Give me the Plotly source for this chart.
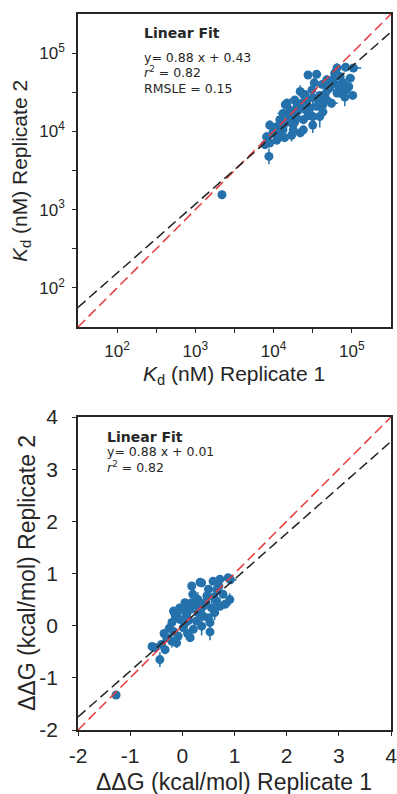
import numpy as np
import plotly.graph_objects as go

# ---- Kd data (log10 of Kd in nM), replicate 1 vs replicate 2 ----
log_kd_rep1 = [4.44, 4.55, 4.81, 4.92, 5.02, 4.76, 4.89, 4.93, 5.01, 4.91,
               4.81, 4.69, 4.59, 4.50, 4.42, 4.36, 4.27, 4.17, 4.21, 4.12,
               4.29, 4.42, 4.55, 4.63, 4.68, 4.50, 4.38, 4.27, 4.17, 4.08,
               4.04, 3.95, 4.12, 4.25, 3.99, 4.08, 3.91, 3.95, 3.89, 3.94,
               4.59, 4.63, 4.74, 4.49, 4.34, 4.82, 4.98, 4.68, 4.29, 3.34,
               4.38, 4.34, 4.23, 4.50, 4.15, 4.04, 4.46, 4.33, 4.20, 4.10,
               4.00, 4.58, 4.66, 4.72, 4.85, 4.78, 4.62, 4.52, 4.40, 4.30,
               4.24, 4.44, 4.86, 4.96, 4.05, 4.14]
log_kd_rep2 = [4.72, 4.73, 4.81, 4.82, 4.81, 4.66, 4.62, 4.53, 4.46, 4.44,
               4.49, 4.53, 4.46, 4.43, 4.40, 4.36, 4.40, 4.36, 4.27, 4.23,
               4.25, 4.27, 4.32, 4.34, 4.40, 4.19, 4.15, 4.12, 4.12, 4.15,
               4.06, 4.08, 4.02, 4.02, 3.98, 3.93, 3.93, 3.85, 3.83, 3.68,
               4.19, 4.25, 4.36, 4.53, 4.51, 4.59, 4.68, 4.66, 4.17, 3.19,
               4.02, 3.98, 3.95, 4.08, 4.34, 3.89, 4.30, 4.28, 4.18, 4.08,
               4.02, 4.40, 4.48, 4.56, 4.70, 4.74, 4.60, 4.62, 4.47, 4.33,
               4.10, 4.20, 4.52, 4.57, 3.98, 3.92]
log_kd_err1 = [0.04, 0.03, 0.05, 0.06, 0.10, 0.04, 0.03, 0.05, 0.03, 0.08,
               0.04, 0.03, 0.05, 0.04, 0.06, 0.03, 0.04, 0.05, 0.03, 0.07,
               0.04, 0.03, 0.05, 0.04, 0.03, 0.06, 0.04, 0.03, 0.05, 0.04,
               0.03, 0.04, 0.05, 0.03, 0.04, 0.06, 0.03, 0.04, 0.05, 0.03,
               0.04, 0.03, 0.08, 0.04, 0.03, 0.05, 0.06, 0.03, 0.04, 0.03,
               0.04, 0.03, 0.05, 0.04, 0.03, 0.05, 0.04, 0.05, 0.03, 0.04,
               0.03, 0.06, 0.04, 0.03, 0.05, 0.04, 0.03, 0.04, 0.05, 0.03,
               0.04, 0.03, 0.08, 0.05, 0.04, 0.03]
log_kd_err2 = [0.05, 0.04, 0.06, 0.04, 0.05, 0.14, 0.05, 0.06, 0.04, 0.12,
               0.05, 0.10, 0.04, 0.16, 0.05, 0.12, 0.04, 0.06, 0.15, 0.05,
               0.04, 0.10, 0.05, 0.06, 0.04, 0.12, 0.05, 0.04, 0.07, 0.05,
               0.04, 0.06, 0.05, 0.10, 0.04, 0.05, 0.06, 0.04, 0.05, 0.10,
               0.14, 0.05, 0.06, 0.04, 0.08, 0.05, 0.04, 0.06, 0.12, 0.03,
               0.05, 0.04, 0.08, 0.10, 0.05, 0.06, 0.05, 0.12, 0.04, 0.06,
               0.05, 0.04, 0.10, 0.05, 0.06, 0.04, 0.05, 0.08, 0.04, 0.06,
               0.05, 0.04, 0.06, 0.05, 0.04, 0.05]

# ---- ddG data (kcal/mol), replicate 1 vs replicate 2 ----
ddg_rep1 = [0.18, 0.37, 0.72, 0.88, 0.92, 0.66, 0.78, 0.91, 0.66, 0.47,
            0.30, 0.18, 0.05, -0.05, 0.15, -0.17, 0.40, 0.56, 0.72, 0.82,
            0.08, 0.30, -0.11, -0.14, -0.05, -0.20, 0.02, -0.17, 0.21, 0.37,
            0.27, 0.53, 0.40, 0.59, -0.30, -0.20, -0.40, -0.52, -0.33, -0.43,
            -0.08, 0.15, -0.11, 0.50, -1.27, 0.53, -0.58, 0.34, 0.10, 0.25,
            0.45, 0.60, 0.05, -0.25, 0.12, 0.35, -0.35, 0.70, 0.50, 0.20,
            -0.02, 0.62, 0.10]
ddg_rep2 = [0.76, 0.82, 0.89, 0.92, 0.88, 0.69, 0.60, 0.50, 0.47, 0.57,
            0.50, 0.44, 0.44, 0.34, 0.31, 0.28, 0.37, 0.34, 0.37, 0.41,
            0.21, 0.25, 0.18, 0.22, 0.12, 0.06, -0.04, -0.11, -0.07, -0.01,
            0.09, 0.06, 0.18, 0.85, -0.23, -0.30, -0.36, -0.42, -0.46, -0.65,
            -0.20, -0.23, -0.33, 0.15, -1.33, -0.12, -0.40, 0.83, 0.35, 0.40,
            0.45, 0.55, 0.05, -0.05, 0.10, 0.30, -0.15, 0.75, 0.70, 0.60,
            0.30, 0.25, -0.15]
ddg_err1 = [0.05, 0.04, 0.06, 0.10, 0.12, 0.05, 0.04, 0.06, 0.04, 0.05,
            0.04, 0.06, 0.05, 0.04, 0.05, 0.04, 0.06, 0.05, 0.04, 0.08,
            0.04, 0.05, 0.04, 0.06, 0.05, 0.04, 0.05, 0.04, 0.06, 0.05,
            0.04, 0.05, 0.04, 0.05, 0.06, 0.04, 0.05, 0.04, 0.06, 0.05,
            0.04, 0.05, 0.04, 0.06, 0.05, 0.04, 0.05, 0.04, 0.05, 0.04,
            0.06, 0.05, 0.04, 0.05, 0.04, 0.06, 0.05, 0.04, 0.05, 0.06,
            0.04, 0.05, 0.04]
ddg_err2 = [0.06, 0.05, 0.06, 0.05, 0.06, 0.16, 0.05, 0.12, 0.18, 0.06,
            0.14, 0.05, 0.06, 0.05, 0.20, 0.06, 0.05, 0.16, 0.05, 0.06,
            0.05, 0.12, 0.06, 0.05, 0.06, 0.14, 0.05, 0.06, 0.05, 0.18,
            0.06, 0.05, 0.06, 0.05, 0.06, 0.12, 0.05, 0.06, 0.05, 0.14,
            0.06, 0.05, 0.10, 0.05, 0.04, 0.16, 0.05, 0.06, 0.05, 0.06,
            0.12, 0.05, 0.06, 0.05, 0.10, 0.06, 0.05, 0.06, 0.05, 0.12,
            0.06, 0.14, 0.05]

# ---- linear fit results ----
kd_slope, kd_intercept, kd_r2, kd_rmsle = 0.88, 0.43, 0.82, 0.15
ddg_slope, ddg_intercept, ddg_r2 = 0.88, 0.01, 0.82

# ---- axes ----
kd_log_range = [1.5, 5.5]
kd_tick_exponents = [2, 3, 4, 5]
kd_minor_exponents = [2.5, 3.5, 4.5]
ddg_range = [-2, 4]
ddg_ticks = [-2, -1, 0, 1, 2, 3, 4]

BLUE = "#2471ab"
RED = "#e4393d"
BLACK = "#222222"
AXIS = "#262626"
TXT = "#262626"
AX_FONT = "Liberation Sans, Arial, sans-serif"
ANN_FONT = "DejaVu Sans, sans-serif"
W, H = 397, 794

fig = go.Figure()

# Kd scatter with error bars (log-symmetric errors)
l1 = np.array(log_kd_rep1)
l2 = np.array(log_kd_rep2)
e1 = np.array(log_kd_err1)
e2 = np.array(log_kd_err2)
kd1, kd2 = 10 ** l1, 10 ** l2
fig.add_trace(go.Scatter(
    x=kd1, y=kd2, mode="markers", xaxis="x", yaxis="y",
    marker=dict(color=BLUE, size=9, line=dict(width=0)),
    error_x=dict(type="data", symmetric=False,
                 array=10 ** (l1 + e1) - kd1, arrayminus=kd1 - 10 ** (l1 - e1),
                 color=BLUE, thickness=1.5, width=0),
    error_y=dict(type="data", symmetric=False,
                 array=10 ** (l2 + e2) - kd2, arrayminus=kd2 - 10 ** (l2 - e2),
                 color=BLUE, thickness=1.5, width=0),
    showlegend=False, hoverinfo="skip"))

lx = np.array(kd_log_range)
fig.add_trace(go.Scatter(
    x=10 ** lx, y=10 ** lx, mode="lines", xaxis="x", yaxis="y",
    line=dict(color=RED, width=1.5, dash="10px,5px"), showlegend=False))
fig.add_trace(go.Scatter(
    x=10 ** lx, y=10 ** (kd_slope * lx + kd_intercept), mode="lines",
    xaxis="x", yaxis="y",
    line=dict(color=BLACK, width=1.5, dash="10px,5px"), showlegend=False))

# ddG scatter with error bars
fig.add_trace(go.Scatter(
    x=ddg_rep1, y=ddg_rep2, mode="markers", xaxis="x2", yaxis="y2",
    marker=dict(color=BLUE, size=9, line=dict(width=0)),
    error_x=dict(type="data", array=ddg_err1, color=BLUE, thickness=1.5, width=0),
    error_y=dict(type="data", array=ddg_err2, color=BLUE, thickness=1.5, width=0),
    showlegend=False, hoverinfo="skip"))

gx = np.array(ddg_range, dtype=float)
fig.add_trace(go.Scatter(
    x=gx, y=gx, mode="lines", xaxis="x2", yaxis="y2",
    line=dict(color=RED, width=1.5, dash="10px,5px"), showlegend=False))
fig.add_trace(go.Scatter(
    x=gx, y=ddg_slope * gx + ddg_intercept, mode="lines", xaxis="x2", yaxis="y2",
    line=dict(color=BLACK, width=1.5, dash="10px,5px"), showlegend=False))

# labelled decades, unlabelled half-decade ticks
kd_tickvals = [10 ** e for e in kd_tick_exponents]
kd_ticktext = [f"10<sup>{e}</sup>" for e in kd_tick_exponents]
kd_minor = dict(tickvals=[10 ** e for e in kd_minor_exponents], ticks="outside",
                ticklen=4, tickwidth=1.2, tickcolor=AXIS, showgrid=False)

common = dict(showline=True, linecolor=AXIS, linewidth=1.5, mirror=True,
              ticks="outside", ticklen=4, tickwidth=1.2, tickcolor=AXIS,
              showgrid=False, zeroline=False, automargin=False,
              ticklabeloverflow="allow")

x0, x1 = 78 / W, 391 / W
fig.update_layout(
    template="none",
    width=W, height=H, margin=dict(l=0, r=0, t=0, b=0, pad=0, autoexpand=False),
    paper_bgcolor="white", plot_bgcolor="white", showlegend=False,
    xaxis=dict(type="log", range=kd_log_range, domain=[x0, x1], anchor="y",
               tickvals=kd_tickvals, ticktext=kd_ticktext, minor=kd_minor,
               tickfont=dict(family=AX_FONT, size=17, color=TXT),
               ticklabelstandoff=4, **common),
    yaxis=dict(type="log", range=kd_log_range, domain=[1 - 327 / H, 1 - 14 / H], anchor="x",
               tickvals=kd_tickvals, ticktext=kd_ticktext, minor=kd_minor,
               tickfont=dict(family=AX_FONT, size=17, color=TXT),
               ticklabelstandoff=4, **common),
    xaxis2=dict(range=ddg_range, domain=[x0, x1], anchor="y2",
                tickvals=ddg_ticks, ticktext=[str(t) for t in ddg_ticks],
                tickfont=dict(family=AX_FONT, size=21, color=TXT),
                ticklabelstandoff=2, **common),
    yaxis2=dict(range=ddg_range, domain=[1 - 730 / H, 1 - 417 / H], anchor="x2",
                tickvals=ddg_ticks, ticktext=[str(t) for t in ddg_ticks],
                tickfont=dict(family=AX_FONT, size=21, color=TXT),
                ticklabelstandoff=10, **common),
)

def label(x, y, text, size, family=AX_FONT, **kw):
    kw.setdefault("xanchor", "center")
    kw.setdefault("yanchor", "middle")
    fig.add_annotation(x=x / W, y=1 - y / H, xref="paper", yref="paper",
                       text=text, showarrow=False,
                       font=dict(family=family, size=size, color=TXT), **kw)

# axis titles
label(234, 375, "<i>K</i><sub>d</sub> (nM) Replicate 1", 21)
label(21, 171, "<i>K</i><sub>d</sub> (nM) Replicate 2", 21, textangle=-90)
label(234, 782, "ΔΔG (kcal/mol) Replicate 1", 23)
label(27, 573, "ΔΔG (kcal/mol) Replicate 2", 23, textangle=-90)

# fit summaries
label(142, 33, "<b>Linear Fit</b>", 14, ANN_FONT, xanchor="left")
label(142, 57, f"y= {kd_slope:.2f} x + {kd_intercept:.2f}", 12.5, ANN_FONT, xanchor="left")
label(142, 72, f"<i>r</i><sup>2</sup> = {kd_r2:.2f}", 12.5, ANN_FONT, xanchor="left")
label(142, 88, f"RMSLE = {kd_rmsle:.2f}", 12.5, ANN_FONT, xanchor="left")

label(105, 437, "<b>Linear Fit</b>", 14, ANN_FONT, xanchor="left")
label(105, 451, f"y= {ddg_slope:.2f} x + {ddg_intercept:.2f}", 12.5, ANN_FONT, xanchor="left")
label(105, 467, f"<i>r</i><sup>2</sup> = {ddg_r2:.2f}", 12.5, ANN_FONT, xanchor="left")

fig.write_html("out.html")
